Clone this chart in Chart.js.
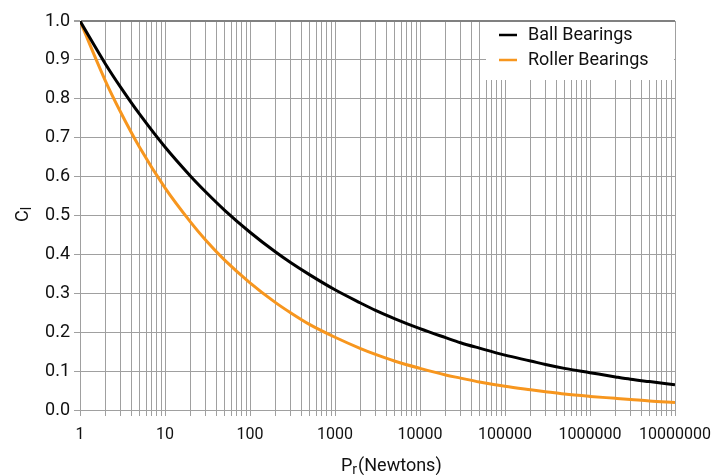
<!DOCTYPE html>
<html>
<head>
<meta charset="utf-8">
<script src="https://cdn.jsdelivr.net/npm/chart.js@4/dist/chart.umd.min.js"></script>
<style>
  html, body { margin: 0; padding: 0; background: #fff; }
  #wrap { width: 711px; height: 475px; }
</style>
</head>
<body>
<div id="wrap"><canvas id="clChart"></canvas></div>
<script>
// load in Newtons
const loadPr = [1, 2, 3, 5, 10, 20, 30, 50, 100, 200, 300, 500, 1000, 2000, 3000, 5000,
  10000, 20000, 30000, 50000, 100000, 200000, 300000, 500000,
  1000000, 2000000, 3000000, 5000000, 10000000];
const ballCl = [1.000, 0.889, 0.830, 0.761, 0.676, 0.601, 0.561, 0.514, 0.457, 0.406, 0.379, 0.348,
  0.309, 0.275, 0.256, 0.235, 0.209, 0.186, 0.173, 0.159, 0.141, 0.126, 0.117, 0.107,
  0.096, 0.085, 0.079, 0.073, 0.065];
const rollerCl = [1.000, 0.845, 0.766, 0.676, 0.571, 0.483, 0.437, 0.386, 0.327, 0.276, 0.250, 0.220,
  0.187, 0.158, 0.143, 0.126, 0.107, 0.090, 0.082, 0.072, 0.061, 0.052, 0.047, 0.041,
  0.035, 0.030, 0.027, 0.023, 0.019];
const decades = [1, 10, 100, 1000, 10000, 100000, 1000000, 10000000];

const FONT = 'Roboto, "Liberation Sans", sans-serif';
const GRID = '#a0a0a0';

function toPoints(ys) {
  return loadPr.map((x, i) => ({ x: x, y: ys[i] }));
}

// titles with subscripts + legend box inside plot
const extras = {
  id: 'extras',
  afterDraw(chart) {
    const ctx = chart.ctx;
    const a = chart.chartArea;
    ctx.save();
    // legend
    ctx.fillStyle = '#fff';
    ctx.fillRect(486, a.top + 1, a.right - 487, 58);
    const rows = [['Ball Bearings', '#000'], ['Roller Bearings', '#f7961e']];
    ctx.font = '18px ' + FONT;
    ctx.textBaseline = 'middle';
    rows.forEach((r, i) => {
      const y = 35 + i * 25;
      ctx.strokeStyle = r[1];
      ctx.lineWidth = 2.5;
      ctx.beginPath(); ctx.moveTo(499, y); ctx.lineTo(517, y); ctx.stroke();
      ctx.fillStyle = '#111';
      ctx.fillText(r[0], 528, y);
    });
    // x title: P_r(Newtons)
    ctx.textBaseline = 'alphabetic';
    ctx.fillStyle = '#111';
    let x = 341, y = 471;
    ctx.font = '18px ' + FONT;
    ctx.fillText('P', x, y); x += ctx.measureText('P').width;
    ctx.font = '14px ' + FONT;
    ctx.fillText('r', x, y + 3); x += ctx.measureText('r').width + 1;
    ctx.font = '18px ' + FONT;
    ctx.fillText('(Newtons)', x, y);
    // y title: C_l rotated
    ctx.translate(28, 222);
    ctx.rotate(-Math.PI / 2);
    ctx.font = '18px ' + FONT;
    ctx.fillText('C', 0, 0);
    const cw = ctx.measureText('C').width;
    ctx.font = '14px ' + FONT;
    ctx.fillText('l', cw, 3);
    ctx.restore();
  }
};

new Chart(document.getElementById('clChart'), {
  type: 'line',
  data: {
    datasets: [
      { label: 'Ball Bearings', data: toPoints(ballCl), borderColor: '#000', borderWidth: 3,
        pointRadius: 0, cubicInterpolationMode: 'monotone', fill: false },
      { label: 'Roller Bearings', data: toPoints(rollerCl), borderColor: '#f7961e', borderWidth: 3,
        pointRadius: 0, cubicInterpolationMode: 'monotone', fill: false }
    ]
  },
  options: {
    responsive: true,
    maintainAspectRatio: false,
    animation: false,
    layout: { padding: { left: 0, right: 36, top: 21, bottom: 0 } },
    plugins: { legend: { display: false }, tooltip: { enabled: false } },
    scales: {
      x: {
        type: 'logarithmic',
        min: 1,
        max: 10000000,
        afterBuildTicks(scale) {
          const t = [];
          decades.forEach(d => {
            for (let m = 1; m <= 9; m++) {
              if (d * m <= 10000000) t.push({ value: d * m });
            }
          });
          scale.ticks = t;
        },
        afterFit(scale) {
          scale.height = 65;
          scale.paddingLeft = 0;
          scale.paddingRight = 0;
        },
        ticks: {
          autoSkip: false,
          maxRotation: 0,
          padding: 9,
          color: '#111',
          font: { family: FONT, size: 16 },
          callback: v => decades.includes(v) ? String(v) : ''
        },
        grid: { color: GRID, lineWidth: 1, tickLength: 6, tickColor: GRID },
        border: { color: GRID }
      },
      y: {
        min: 0,
        max: 1,
        afterFit(scale) { scale.width = 80; },
        ticks: {
          stepSize: 0.05,
          padding: 4,
          color: '#111',
          font: { family: FONT, size: 18 },
          callback: v => Math.round(v * 100) % 10 === 0 ? v.toFixed(1) : ''
        },
        grid: {
          tickLength: 6,
          tickColor: GRID,
          color: c => Math.round(c.tick.value * 100) % 10 === 0
            ? (c.tick.value === 1 ? '#808080' : GRID) : 'rgba(0,0,0,0)',
          lineWidth: c => c.tick.value === 1 ? 2 : 1
        },
        border: { color: GRID }
      }
    }
  },
  plugins: [extras]
});
</script>
</body>
</html>
